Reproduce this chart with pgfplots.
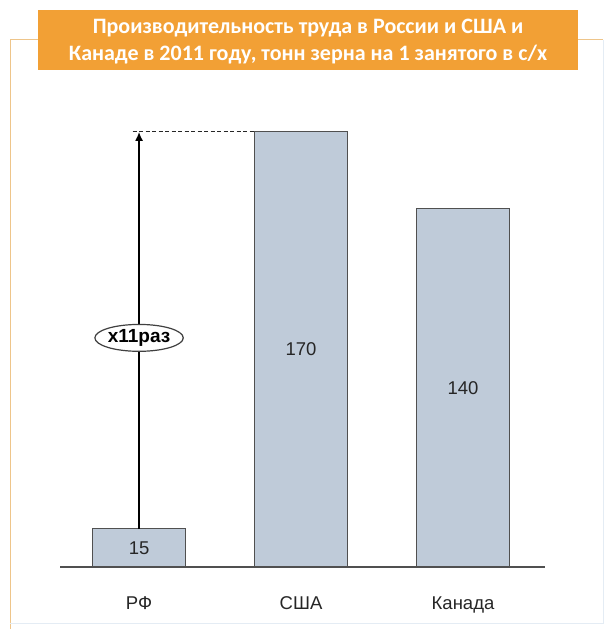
\documentclass[border=0pt]{standalone}
\usepackage{fontspec}
\setmainfont{Liberation Sans}
\newfontfamily\titlefont{Carlito}
\usepackage{pgfplots}
\pgfplotsset{compat=1.18}
\usetikzlibrary{arrows.meta,shapes.geometric}
\definecolor{barfill}{HTML}{BFCBD9}
\definecolor{baredge}{HTML}{505050}
\definecolor{titleorange}{HTML}{F2A035}
\definecolor{frameorange}{HTML}{EEC58A}
\definecolor{framegray}{HTML}{E4ECF4}
\begin{document}
\begin{tikzpicture}[x=1pt,y=1pt]
\useasboundingbox[fill=white] (0,0) rectangle (606,629);
% frame
\draw[frameorange, line width=1pt] (38,589) -- (10,589) -- (10,0);
\draw[frameorange, line width=1pt] (578,589) -- (603,589);
\draw[framegray, line width=0.8pt] (603,589) -- (603,6) -- (10,6);
\fill[titleorange] (38,559) rectangle (578,619);
\node[text=white, align=center, font=\titlefont\bfseries\fontsize{22}{27}\selectfont] at (308,587) {Производительность труда в России и США и\\Канаде в 2011 году, тонн зерна на 1 занятого в с/х};
\begin{axis}[
  at={(60pt,62pt)}, anchor=south west,
  scale only axis, width=485pt, height=512pt,
  xmin=-0.488, xmax=2.506, ymin=0, ymax=200,
  axis x line=bottom, axis y line=none,
  axis line style={baredge, line width=1.3pt, -},
  xtick={0,1,2}, xticklabels={РФ,США,Канада},
  major tick length=0pt, ytick=\empty,
  /pgf/number format/assume math mode=true,
  tick label style={font=\fontsize{18.5}{22}\selectfont, text=black!85},
  xticklabel style={yshift=-26pt},
  clip=false,
]
\addplot[ybar, bar width=93pt, bar shift=0pt, fill=barfill, draw=baredge, line width=1.2pt,
  nodes near coords,
  visualization depends on=y \as \rawy,
  every node near coord/.append style={anchor=center, font=\fontsize{18.5}{22}\selectfont, text=black!85,
     shift={(axis direction cs:0,-\rawy/2)}}]
  coordinates {(0,15) (1,170) (2,140)};
\addplot[black!85, line width=1.2pt, dash pattern=on 4pt off 2.5pt] coordinates {(-0.04,170) (0.713,170)};
\addplot[black, line width=2.4pt, -{Latex[length=9pt,width=8pt]}] coordinates {(0,15) (0,170)};
\node[draw=black!75, ellipse, line width=1.2pt, fill=white, inner xsep=0pt, inner ysep=1pt,
  minimum height=26pt, font=\bfseries\fontsize{19}{22}\selectfont] at (axis cs:0,89.5) {x11раз};
\end{axis}
\end{tikzpicture}
\end{document}
